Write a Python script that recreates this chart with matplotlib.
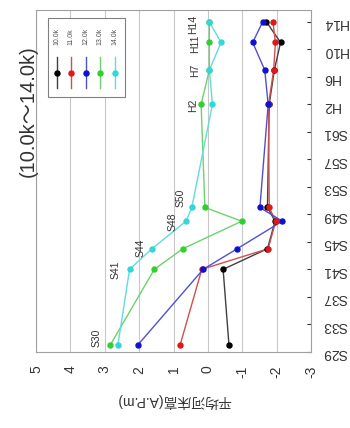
import matplotlib
matplotlib.use('Agg')
import matplotlib.pyplot as plt
from matplotlib.patches import Rectangle

plt.rcParams['font.family'] = ['Liberation Sans', 'Noto Sans CJK JP', 'DejaVu Sans']
plt.rcParams['axes.unicode_minus'] = False

# ── data (survey years as calendar years; S = Showa, H = Heisei) ──
years = [1955, 1966, 1969, 1973, 1975, 1990, 1995, 1999, 2002]
series_names = ['10.0k', '11.0k', '12.0k', '13.0k', '14.0k']
bed_10k = [-0.61, -0.44, -1.73, -1.95, -1.73, -1.78, -1.93, -2.11, -1.70]
bed_11k = [0.81, 0.18, -1.75, -1.97, -1.78, -1.76, -1.91, -1.96, -1.89]
bed_12k = [2.04, 0.14, -0.85, -2.16, -1.51, -1.75, -1.65, -1.30, -1.59]
bed_13k = [2.84, 1.56, 0.73, -0.98, 0.09, 0.20, -0.04, -0.04, -0.04]
bed_14k = [2.62, 2.28, 1.63, 0.64, 0.47, -0.13, -0.04, -0.38, -0.04]
point_labels = ['S30', 'S41', 'S44', 'S48', 'S50', 'H2', 'H7', 'H11', 'H14']

tick_years = list(range(1954, 2003, 4))
tick_names = ['S29', 'S33', 'S37', 'S41', 'S45', 'S49', 'S53', 'S57', 'S61',
              'H2', 'H6', 'H10', 'H14']
value_ticks = [5, 4, 3, 2, 1, 0, -1, -2, -3]

colors = ['#000000', '#e01818', '#1010d0', '#30d030', '#30d8d8']
line_colors = ['#404040', '#d05050', '#5050d0', '#70d070', '#60dcdc']
all_series = [bed_10k, bed_11k, bed_12k, bed_13k, bed_14k]

# label offsets (points) relative to the 14.0k points
label_offsets = [(-15.6, 4.8), (-10.3, 0), (-8.4, 0.4), (-10, -0.5), (-8.4, 7.2),
                 (-14.2, -0.9), (-10, 0), (-18.7, -0.9), (-11.5, -1.5)]

fig = plt.figure(figsize=(3.5, 4.28), dpi=100)
ax = fig.add_axes([0.103, 0.178, 0.786, 0.799])

for vals, c, lc in zip(all_series, colors, line_colors):
    ax.plot(vals, years, '-', color=lc, lw=1.0, zorder=3)
    ax.plot(vals, years, 'o', color=c, ms=3.6, mec=c, zorder=4)

for lab, v, yr, off in zip(point_labels, bed_14k, years, label_offsets):
    ax.annotate(lab, (v, yr), xytext=off, textcoords='offset points',
                rotation=90, ha='center', va='center', fontsize=7.5, color='#333333')

ax.set_xlim(5, -3)
ax.set_ylim(1954, 2003.75)
ax.set_xticks(value_ticks)
ax.set_xticklabels([str(v) for v in value_ticks])
ax.set_yticks(tick_years)
ax.set_yticklabels(tick_names)
ax.yaxis.tick_right()
ax.tick_params(axis='y', direction='in', length=3, labelrotation=180, pad=8,
               labelsize=10, colors='#333333')
ax.tick_params(axis='x', direction='in', length=0, labelrotation=90, pad=10,
               labelsize=10, colors='#333333')
ax.grid(axis='x', color='#c8c8c8', lw=0.8)
for sp in ax.spines.values():
    sp.set_color('#a0a0a0')
ax.set_xlabel('平均河床高(A.P.m)', rotation=180, fontsize=10, labelpad=11, color='#333333')

# legend drawn rotated like the chart
ax.add_patch(Rectangle((0.044, 0.746), 0.28, 0.231, transform=ax.transAxes,
                       facecolor='white', edgecolor='#808080', lw=0.8, zorder=5))
for i, (name, c, lc) in enumerate(zip(series_names, colors, line_colors)):
    lx = 0.076 + i * 0.0527
    ax.plot([lx, lx], [0.772, 0.863], '-', color=lc, lw=1.0, transform=ax.transAxes, zorder=6)
    ax.plot([lx], [0.816], 'o', color=c, ms=3.6, transform=ax.transAxes, zorder=7)
    ax.text(lx, 0.921, name, rotation=90, ha='center', va='center', fontsize=5,
            transform=ax.transAxes, zorder=7, color='#555555')

fig.text(28 / 350, 1 - 111 / 428, '(10.0k～14.0k)', rotation=90, ha='center', va='center',
         fontsize=14.5, color='#333333')

fig.savefig('out.png', dpi=100)
